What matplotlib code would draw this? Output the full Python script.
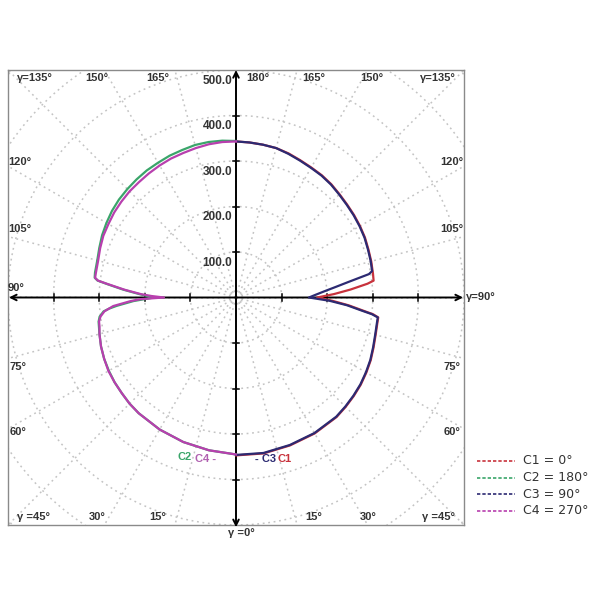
import numpy as np
import matplotlib
matplotlib.use("Agg")
import matplotlib.pyplot as plt

# gamma angles (deg) and luminous intensity values (cd)
gamma_c1 = [0, 10, 20, 30, 40, 45, 50, 55, 60, 65, 70, 75, 80, 82, 83, 84, 86, 88, 90,
            92, 94, 96, 97, 100, 105, 110, 115, 120, 125, 130, 135, 140, 145, 150, 155,
            160, 165, 170, 175, 180]
c1 = [347, 348, 346, 345, 343, 340, 337, 334, 330, 326, 321, 317, 315, 315, 303, 282, 248,
      212, 178, 215, 252, 290, 304, 305, 307, 309, 312, 314, 316, 318, 321, 325, 328, 330,
      333, 337, 340, 341, 342, 343]

gamma_c3 = [0, 10, 20, 30, 40, 45, 50, 55, 60, 65, 70, 75, 80, 82, 83, 84, 86, 88, 90,
            92, 94, 96, 98, 100, 101, 105, 110, 115, 120, 125, 130, 135, 140, 145, 150,
            155, 160, 165, 170, 175, 180]
c3 = [346, 347, 345, 344, 342, 339, 336, 333, 329, 325, 320, 316, 314, 314, 300, 278, 244,
      205, 160, 175, 194, 219, 251, 296, 304, 306, 308, 311, 313, 315, 317, 320, 324, 327,
      329, 332, 336, 340, 341, 342, 343]

gamma_c2 = [0, 10, 20, 30, 40, 45, 50, 55, 60, 65, 70, 75, 80, 82, 84, 85, 86, 88, 90,
            92, 94, 96, 97, 98, 100, 105, 110, 115, 120, 125, 130, 135, 140, 145, 150,
            155, 160, 165, 170, 175, 180]
c2 = [345, 341, 338, 335, 332, 330, 327, 325, 322, 319, 315, 310, 306, 302, 292, 279, 262,
      225, 180, 212, 248, 285, 306, 313, 314, 315, 319, 324, 328, 332, 335, 337, 339, 341,
      342, 344, 345, 347, 347, 346, 344]

gamma_c4 = [0, 10, 20, 30, 40, 45, 50, 55, 60, 65, 70, 75, 78, 80, 82, 84, 86, 88, 89, 90,
            91, 92, 94, 96, 97, 98, 100, 105, 110, 115, 120, 125, 130, 135, 140, 145, 150,
            155, 160, 165, 170, 175, 180]
c4 = [345, 341, 338, 335, 332, 330, 327, 325, 323, 319, 315, 310, 306, 305, 300, 290, 270,
      232, 210, 158, 185, 208, 245, 283, 305, 312, 312, 313, 317, 321, 323, 326, 328, 330,
      331, 333, 335, 337, 338, 340, 342, 343, 343]

series = [
    ("C1", gamma_c1, c1, 1, "#c8323c"),
    ("C2", gamma_c2, c2, -1, "#3aa56a"),
    ("C3", gamma_c3, c3, 1, "#2c2a72"),
    ("C4", gamma_c4, c4, -1, "#b83fae"),
]
legend_labels = ["C1 = 0\u00b0", "C2 = 180\u00b0", "C3 = 90\u00b0", "C4 = 270\u00b0"]
rings = [100, 200, 300, 400, 500, 600, 700]
ring_labels = ["100.0", "200.0", "300.0", "400.0", "500.0"]

fig = plt.figure(figsize=(6, 5.99), dpi=100)
ax = fig.add_axes([8 / 600, 74 / 599, 456 / 600, 455 / 599])
ax.set_xlim(-500, 500)
ax.set_ylim(-500, 500)
ax.set_xticks([])
ax.set_yticks([])
for s in ax.spines.values():
    s.set_color("#8a8a8a")
    s.set_linewidth(1.0)

grid_kw = dict(color="#c4c4c4", lw=1.1, linestyle=(0, (1.2, 2.4)), zorder=1)
t = np.linspace(0, 2 * np.pi, 400)
for r in rings:
    ax.plot(r * np.cos(t), r * np.sin(t), **grid_kw)
for a in range(0, 360, 15):
    ar = np.radians(a)
    ax.plot([0, 800 * np.cos(ar)], [0, 800 * np.sin(ar)], **grid_kw)

# axes with arrows
akw = dict(arrowstyle="<->", color="black", lw=1.4, mutation_scale=10, shrinkA=0, shrinkB=0)
ax.annotate("", xy=(-498, 0), xytext=(498, 0), arrowprops=akw, zorder=3)
ax.annotate("", xy=(0, -505), xytext=(0, 500), arrowprops=akw, zorder=3,
            annotation_clip=False)
for v in [-400, -300, -200, -100, 100, 200, 300, 400]:
    ax.plot([v, v], [-7, 7], color="black", lw=1.1, zorder=3)
    ax.plot([-7, 7], [v, v], color="black", lw=1.1, zorder=3)

for name, g, vals, side, col in series:
    g = np.radians(np.array(g, dtype=float))
    r = np.array(vals, dtype=float)
    ax.plot(side * r * np.sin(g), -r * np.cos(g), color=col, lw=1.6, zorder=4)

lab = dict(fontsize=8, fontweight="bold", color="#333333", family="Liberation Sans",
           ha="center", va="center")
for i, txt in enumerate(ring_labels):
    ax.text(-8, (i + 1) * 100 - 24, txt, **{**lab, "ha": "right", "fontsize": 8.5})

ax.text(-441, 482, "\u03b3=135\u00b0", **lab)
ax.text(-305, 482, "150\u00b0", **lab)
ax.text(-171, 482, "165\u00b0", **lab)
ax.text(48, 482, "180\u00b0", **lab)
ax.text(171, 482, "165\u00b0", **lab)
ax.text(298, 482, "150\u00b0", **lab)
ax.text(443, 482, "\u03b3=135\u00b0", **lab)
ax.text(-474, 298, "120\u00b0", **lab)
ax.text(-474, 150, "105\u00b0", **lab)
ax.text(-482, 21, "90\u00b0", **lab)
ax.text(474, 298, "120\u00b0", **lab)
ax.text(474, 150, "105\u00b0", **lab)
ax.text(504, 0, "\u03b3=90\u00b0", **{**lab, "ha": "left"}, clip_on=False)
ax.text(-478, -153, "75\u00b0", **lab)
ax.text(-478, -296, "60\u00b0", **lab)
ax.text(474, -153, "75\u00b0", **lab)
ax.text(474, -296, "60\u00b0", **lab)
ax.text(-445, -482, "\u03b3 =45\u00b0", **lab)
ax.text(-305, -482, "30\u00b0", **lab)
ax.text(-171, -482, "15\u00b0", **lab)
ax.text(171, -482, "15\u00b0", **lab)
ax.text(289, -482, "30\u00b0", **lab)
ax.text(443, -482, "\u03b3 =45\u00b0", **lab)
ax.text(12, -517, "\u03b3 =0\u00b0", **lab, clip_on=False)

# curve tags near the bottom
tag = dict(fontsize=8, fontweight="bold", family="Liberation Sans", va="center", ha="center")
ax.text(-112, -350, "C2", color="#3aa56a", **tag)
ax.text(-66, -356, "C4 -", color="#b060b0", **tag)
ax.text(64, -356, "- C3", color="#2c2a72", **tag)
ax.text(106, -356, "C1", color="#c8323c", **tag)

# legend outside the box
for i, (name, g, vals, side, col) in enumerate(series):
    y = 1 - (461 + i * 16.5) / 599
    fig.add_artist(plt.Line2D([477 / 600, 515 / 600], [y, y], color=col, lw=1.2,
                              linestyle=(0, (2, 1.2))))
    fig.text(523 / 600, y, legend_labels[i], fontsize=9, color="#333333",
             family="DejaVu Sans", va="center", ha="left")

fig.savefig("out.png", dpi=100)
